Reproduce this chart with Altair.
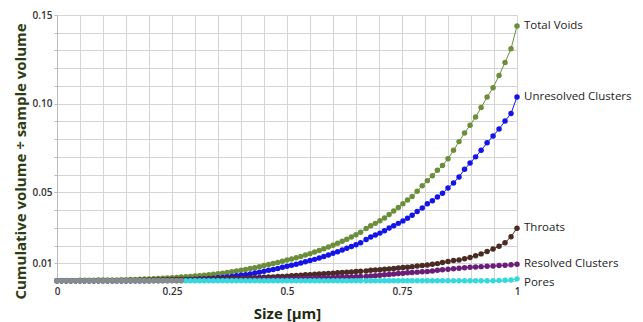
import altair as alt
import pandas as pd

# ---- data ----
SIZES = [
    0.00, 0.01, 0.02, 0.03, 0.04, 0.05, 0.06, 0.07, 0.08, 0.09,
    0.10, 0.11, 0.12, 0.13, 0.14, 0.15, 0.16, 0.17, 0.18, 0.19,
    0.20, 0.21, 0.22, 0.23, 0.24, 0.25, 0.26, 0.27, 0.28, 0.29,
    0.30, 0.31, 0.32, 0.33, 0.34, 0.35, 0.36, 0.37, 0.38, 0.39,
    0.40, 0.41, 0.42, 0.43, 0.44, 0.45,
    0.46, 0.47, 0.48, 0.49, 0.50, 0.51, 0.52, 0.53, 0.54, 0.55,
    0.56, 0.57, 0.58, 0.59, 0.60, 0.61, 0.62, 0.63, 0.64, 0.65, 0.66,
    0.672, 0.682, 0.692, 0.702, 0.712, 0.722, 0.732, 0.742, 0.752, 0.762,
    0.772, 0.783, 0.794, 0.805, 0.816, 0.827, 0.838, 0.850, 0.862, 0.874,
    0.886, 0.898, 0.910, 0.922, 0.935, 0.948, 0.961, 0.974, 0.987, 1.000,
]

TOTAL_VOIDS = [
    0.0003, 0.0003, 0.0003, 0.0003, 0.0003, 0.0004, 0.0004, 0.0004, 0.0004, 0.0005,
    0.0005, 0.0005, 0.0006, 0.0006, 0.0007, 0.0007, 0.0008, 0.0009, 0.0010, 0.0011,
    0.0012, 0.0013, 0.0014, 0.0016, 0.0017, 0.0019, 0.0020, 0.0022, 0.0024, 0.0026,
    0.0028, 0.0030, 0.0032, 0.0035, 0.0038, 0.0041, 0.0044, 0.0048, 0.0052, 0.0056,
    0.0061, 0.0065, 0.0070, 0.0075, 0.0081, 0.0087,
    0.0093, 0.0099, 0.0105, 0.0112, 0.0118, 0.0124, 0.0131, 0.0138, 0.0146, 0.0154,
    0.0163, 0.0172, 0.0182, 0.0192, 0.0202, 0.0213, 0.0224, 0.0236, 0.0248, 0.0261, 0.0275,
    0.0296, 0.0311, 0.0325, 0.0340, 0.0355, 0.0375, 0.0395, 0.0414, 0.0436, 0.0457,
    0.0477, 0.0506, 0.0537, 0.0566, 0.0594, 0.0624, 0.0651, 0.0690, 0.0737, 0.0786,
    0.0835, 0.0878, 0.0925, 0.0978, 0.1037, 0.1090, 0.1159, 0.1232, 0.1310, 0.1438,
]

UNRESOLVED_CLUSTERS = [
    0.0002, 0.0002, 0.0002, 0.0002, 0.0002, 0.0002, 0.0002, 0.0002, 0.0002, 0.0002,
    0.0002, 0.0002, 0.0002, 0.0002, 0.0002, 0.0002, 0.0002, 0.0002, 0.0002, 0.0002,
    0.0002, 0.0003, 0.0003, 0.0004, 0.0004, 0.0005, 0.0005, 0.0006, 0.0007, 0.0008,
    0.0009, 0.0011, 0.0012, 0.0014, 0.0016, 0.0018, 0.0020, 0.0023, 0.0026, 0.0029,
    0.0032, 0.0036, 0.0040, 0.0045, 0.0050, 0.0055,
    0.0060, 0.0065, 0.0071, 0.0077, 0.0083, 0.0089, 0.0095, 0.0101, 0.0108, 0.0115,
    0.0122, 0.0130, 0.0138, 0.0147, 0.0156, 0.0165, 0.0175, 0.0185, 0.0195, 0.0205, 0.0216,
    0.0234, 0.0248, 0.0259, 0.0270, 0.0284, 0.0299, 0.0312, 0.0325, 0.0339, 0.0354,
    0.0371, 0.0392, 0.0412, 0.0435, 0.0452, 0.0474, 0.0495, 0.0524, 0.0553, 0.0587,
    0.0630, 0.0665, 0.0700, 0.0737, 0.0779, 0.0818, 0.0857, 0.0902, 0.0945, 0.1038,
]

THROATS = [
    0.0002, 0.0002, 0.0002, 0.0002, 0.0002, 0.0002, 0.0002, 0.0002, 0.0002, 0.0002,
    0.0002, 0.0002, 0.0002, 0.0002, 0.0002, 0.0002, 0.0003, 0.0003, 0.0004, 0.0004,
    0.0005, 0.0005, 0.0006, 0.0006, 0.0007, 0.0007, 0.0008, 0.0008, 0.0009, 0.0009,
    0.0010, 0.0010, 0.0011, 0.0011, 0.0012, 0.0013, 0.0013, 0.0014, 0.0015, 0.0015,
    0.0016, 0.0017, 0.0018, 0.0019, 0.0020, 0.0021,
    0.0022, 0.0023, 0.0025, 0.0026, 0.0027, 0.0029, 0.0031, 0.0033, 0.0035, 0.0036,
    0.0038, 0.0039, 0.0041, 0.0043, 0.0044, 0.0046, 0.0048, 0.0050, 0.0051, 0.0053, 0.0055,
    0.0057, 0.0060, 0.0062, 0.0064, 0.0066, 0.0068, 0.0071, 0.0073, 0.0076, 0.0078,
    0.0081, 0.0084, 0.0087, 0.0090, 0.0094, 0.0098, 0.0104, 0.0110, 0.0115, 0.0119,
    0.0125, 0.0133, 0.0143, 0.0153, 0.0166, 0.0181, 0.0196, 0.0216, 0.0250, 0.0298,
]

RESOLVED_CLUSTERS = [
    0.0002, 0.0002, 0.0002, 0.0002, 0.0002, 0.0002, 0.0002, 0.0002, 0.0002, 0.0002,
    0.0002, 0.0002, 0.0002, 0.0002, 0.0002, 0.0002, 0.0002, 0.0002, 0.0002, 0.0002,
    0.0002, 0.0003, 0.0003, 0.0003, 0.0003, 0.0004, 0.0004, 0.0004, 0.0004, 0.0005,
    0.0005, 0.0005, 0.0005, 0.0006, 0.0006, 0.0006, 0.0006, 0.0007, 0.0007, 0.0007,
    0.0008, 0.0008, 0.0008, 0.0009, 0.0009, 0.0010,
    0.0010, 0.0011, 0.0011, 0.0012, 0.0012, 0.0013, 0.0013, 0.0014, 0.0015, 0.0015,
    0.0016, 0.0017, 0.0018, 0.0019, 0.0020, 0.0021, 0.0021, 0.0022, 0.0023, 0.0024, 0.0025,
    0.0026, 0.0028, 0.0030, 0.0032, 0.0035, 0.0037, 0.0040, 0.0042, 0.0044, 0.0046,
    0.0048, 0.0050, 0.0052, 0.0054, 0.0057, 0.0060, 0.0063, 0.0066, 0.0069, 0.0072,
    0.0075, 0.0077, 0.0079, 0.0081, 0.0083, 0.0085, 0.0087, 0.0089, 0.0091, 0.0094,
]

PORES = [
    0.0002, 0.0002, 0.0002, 0.0002, 0.0002, 0.0002, 0.0002, 0.0002, 0.0002, 0.0002,
    0.0002, 0.0002, 0.0002, 0.0002, 0.0002, 0.0002, 0.0002, 0.0002, 0.0002, 0.0002,
    0.0002, 0.0002, 0.0002, 0.0002, 0.0002, 0.0002, 0.0002, 0.0002, 0.0002, 0.0002,
    0.0002, 0.0002, 0.0002, 0.0002, 0.0002, 0.0002, 0.0002, 0.0002, 0.0002, 0.0002,
    0.0002, 0.0002, 0.0002, 0.0002, 0.0002, 0.0002,
    0.0002, 0.0002, 0.0002, 0.0002, 0.0002, 0.0002, 0.0002, 0.0002, 0.0002, 0.0002,
    0.0002, 0.0002, 0.0002, 0.0002, 0.0002, 0.0002, 0.0002, 0.0002, 0.0002, 0.0002, 0.0002,
    0.0002, 0.0002, 0.0002, 0.0002, 0.0002, 0.0002, 0.0002, 0.0002, 0.0002, 0.0002,
    0.0002, 0.0002, 0.0002, 0.0002, 0.0002, 0.0002, 0.0002, 0.0002, 0.0002, 0.0002,
    0.0002, 0.0002, 0.0002, 0.0002, 0.0002, 0.0002, 0.0003, 0.0004, 0.0005, 0.0012,
]

# grey overlap band at the far left (first 28 sizes)
OVERLAP = [
    0.0002, 0.0002, 0.0002, 0.0002, 0.0002, 0.0002, 0.0002, 0.0002, 0.0002, 0.0002,
    0.0002, 0.0002, 0.0002, 0.0002, 0.0002, 0.0002, 0.0002, 0.0002, 0.0002, 0.0002,
    0.0002, 0.0002, 0.0002, 0.0002, 0.0002, 0.0002, 0.0002, 0.0002,
]

SERIES = ["Total Voids", "Unresolved Clusters", "Throats", "Resolved Clusters", "Pores", "Overlap"]
COLORS = ["#6b8e3a", "#1414e6", "#4a2a22", "#6a1e78", "#35d8dc", "#8a8a8a"]
VALUES = [TOTAL_VOIDS, UNRESOLVED_CLUSTERS, THROATS, RESOLVED_CLUSTERS, PORES, OVERLAP]

Y_TICKS = [0.0, 0.01, 0.02, 0.03, 0.04, 0.05, 0.06, 0.07, 0.08, 0.09, 0.10,
           0.11, 0.12, 0.13, 0.14, 0.15]
X_TICKS = [0.0, 0.05, 0.10, 0.15, 0.20, 0.25, 0.30, 0.35, 0.40, 0.45, 0.50,
           0.55, 0.60, 0.65, 0.70, 0.75, 0.80, 0.85, 0.90, 0.95, 1.0]

for v in VALUES[:5]:
    assert len(v) == len(SIZES), len(v)

rows = []
for i, (name, vals) in enumerate(zip(SERIES, VALUES)):
    for j, val in enumerate(vals):
        rows.append({"series": name, "size": SIZES[j], "v": val, "k": i * 1000 + j})
df = pd.DataFrame(rows)

labels = pd.DataFrame({
    "series": SERIES[:5],
    "size": [1.0] * 5,
    "v": [vals[-1] for vals in VALUES[:5]],
})

X_AXIS = alt.Axis(values=X_TICKS, title="Size [µm]",
                  labelExpr="(abs(datum.value-0)<1e-6||abs(datum.value-0.25)<1e-6||abs(datum.value-0.5)<1e-6||abs(datum.value-0.75)<1e-6||abs(datum.value-1)<1e-6) ? format(datum.value, '~g') : ''",
                  ticks=False, domain=False, labelPadding=5, labelOverlap=False,
                  labelFont="Open Sans", labelFontSize=10, labelFontWeight=600,
                  labelColor="#333333", titleFont="Open Sans", titleFontSize=15,
                  titleFontWeight="bold", titleColor="#1f2a12",
                  titleY=37, titleBaseline="alphabetic",
                  gridColor="#d4d4d4", labelFlush=False)
Y_AXIS = alt.Axis(values=Y_TICKS, title="Cumulative volume ÷ sample volume",
                  labelExpr="(abs(datum.value-0.01)<1e-6||abs(datum.value-0.05)<1e-6||abs(datum.value-0.10)<1e-6||abs(datum.value-0.15)<1e-6) ? format(datum.value, '.2f') : ''",
                  tickSize=3, tickColor="#bbbbbb", domainColor="#bbbbbb", labelOverlap=False,
                  labelPadding=2, labelFont="Open Sans", labelFontSize=10,
                  labelFontWeight=600, labelColor="#333333",
                  titleFont="Open Sans", titleFontSize=15, titleFontWeight="bold",
                  titleColor="#2d3b12", titleX=-37, titleY=146, titleAlign="center",
                  titleBaseline="middle", titleAngle=270,
                  gridColor="#d4d4d4", labelFlush=False)

x_enc = alt.X("size:Q", scale=alt.Scale(domain=[0, 1], nice=False), axis=X_AXIS)
y_enc = alt.Y("v:Q", scale=alt.Scale(domain=[0, 0.15], nice=False), axis=Y_AXIS)
color = alt.Color("series:N", scale=alt.Scale(domain=SERIES, range=COLORS), legend=None)

base = alt.Chart(df).encode(x=x_enc, y=y_enc, color=color)
lines = base.mark_line(strokeWidth=1).encode(detail="series:N", order="k:Q")
points = base.mark_circle(size=30, opacity=1).encode(order="k:Q")

lab_base = alt.Chart(labels).encode(x=x_enc, y=y_enc, text="series:N")
text_main = lab_base.transform_filter(alt.datum.series != "Pores").mark_text(
    align="left", baseline="middle", dx=7, font="Open Sans", fontSize=11.5, color="#222222")
text_pores = lab_base.transform_filter(alt.datum.series == "Pores").mark_text(
    align="left", baseline="middle", dx=7, dy=4, font="Open Sans", fontSize=11.5, color="#222222")

chart = alt.layer(lines, points, text_main, text_pores).properties(
    width=460, height=266,
    autosize=alt.AutoSizeParams(type="none"),
    padding={"left": 57, "top": 15, "right": 126, "bottom": 41},
    background="white",
).configure_view(stroke=None)

chart.save("out.html", embed_options={"renderer": "svg", "actions": False})
